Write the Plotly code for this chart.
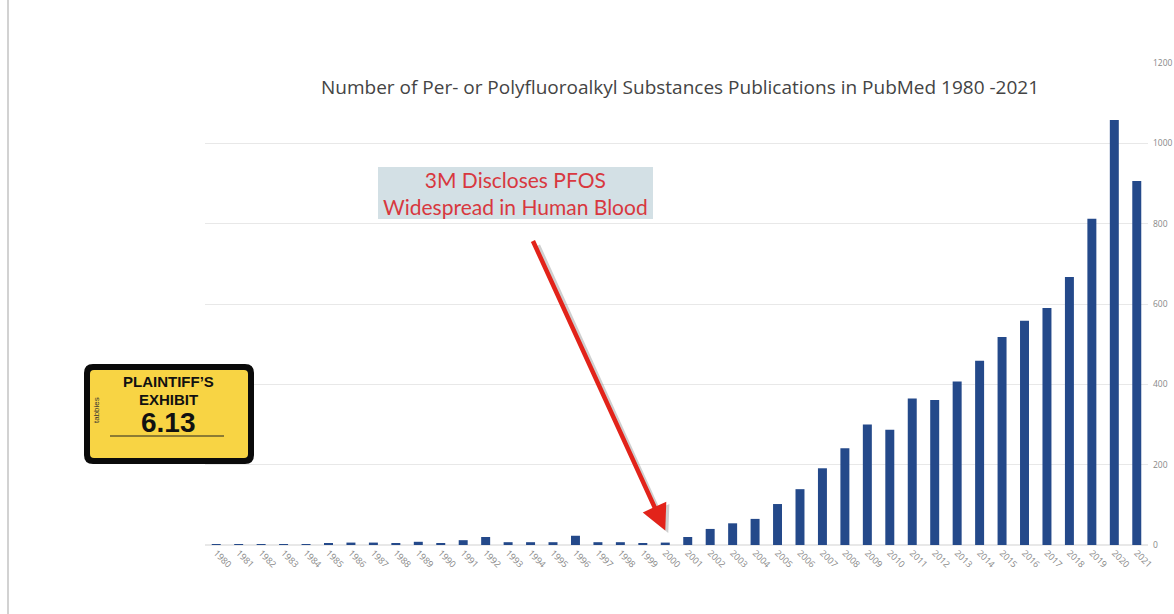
import plotly.graph_objects as go

years = [str(y) for y in range(1980, 2022)]
counts = [1, 1, 1, 1, 1, 3, 6, 6, 4, 8, 5, 12, 20, 7, 7, 7, 23, 7, 7, 5, 6,
          20, 40, 54, 65, 102, 139, 191, 241, 300, 287, 365, 361, 407, 459,
          518, 558, 590, 667, 812, 1058, 906]
y_ticks = [0, 200, 400, 600, 800, 1000, 1200]

title_text = "Number of Per- or Polyfluoroalkyl Substances Publications in PubMed 1980 -2021"
callout_text = "3M Discloses PFOS<br>Widespread in Human Blood"
callout_year = "2000"

W, H = 1174, 614
L, R, T, B = 205, 26, 63, 69
PW, PH = W - L - R, H - T - B


def px(x):
    return (x - L) / PW


def py(y):
    return (H - B - y) / PH


def rounded_path(x0, y0, x1, y1, r):
    rx, ry = r / PW, r / PH
    X0, X1 = px(x0), px(x1)
    Y0, Y1 = py(y1), py(y0)  # bottom, top in paper
    return (f"M {X0+rx},{Y0} L {X1-rx},{Y0} Q {X1},{Y0} {X1},{Y0+ry} "
            f"L {X1},{Y1-ry} Q {X1},{Y1} {X1-rx},{Y1} "
            f"L {X0+rx},{Y1} Q {X0},{Y1} {X0},{Y1-ry} "
            f"L {X0},{Y0+ry} Q {X0},{Y0} {X0+rx},{Y0} Z")


def label(text, x, y, size, color, family, angle=0):
    return dict(text=text, xref="paper", yref="paper", x=px(x), y=py(y),
                xanchor="center", yanchor="middle", showarrow=False,
                textangle=angle,
                font=dict(family=family, size=size, color=color))


# arrow target: category index of the disclosure year
xi = years.index(callout_year)
ti = counts[xi] + 30

fig = go.Figure()
fig.add_trace(go.Bar(x=years, y=counts, marker_color="#24498a",
                     marker_line_width=0, width=0.4))

shapes = [
    # left page line
    dict(type="line", xref="paper", yref="paper", x0=px(8), x1=px(8),
         y0=py(614), y1=py(0), line=dict(color="#d2d2d2", width=2)),
    # callout box
    dict(type="rect", xref="paper", yref="paper", x0=px(378), x1=px(653),
         y0=py(219), y1=py(167), fillcolor="#d3e0e5", line=dict(width=0),
         layer="below"),
    # sticker
    dict(type="path", xref="paper", yref="paper",
         path=rounded_path(84, 364, 254, 464, 9), fillcolor="#0a0a0a",
         line=dict(width=0)),
    dict(type="path", xref="paper", yref="paper",
         path=rounded_path(90, 370, 248, 458, 4), fillcolor="#f8d444",
         line=dict(width=0)),
    dict(type="line", xref="paper", yref="paper", x0=px(110), x1=px(224),
         y0=py(436), y1=py(436), line=dict(color="#222", width=1)),
]

annotations = [
    label(title_text, 680, 87, 19, "#444", "Open Sans"),
    label(callout_text, 515, 193, 21, "#d8383f", "Lato"),
    # arrow shadow
    dict(x=xi, y=ti - 6, xref="x", yref="y", ax=-131, ay=-289,
         text="", showarrow=True, arrowhead=2, arrowsize=1.15, arrowwidth=4.5,
         arrowcolor="rgba(120,120,120,0.35)", xshift=3),
    dict(x=xi, y=ti, xref="x", yref="y", ax=-133, ay=-291,
         text="", showarrow=True, arrowhead=2, arrowsize=1.15, arrowwidth=4.5,
         arrowcolor="#e2231a"),
    label("<b>PLAINTIFF’S</b>", 168, 381, 15, "#111", "Liberation Sans"),
    label("<b>EXHIBIT</b>", 168, 399, 15, "#111", "Liberation Sans"),
    label("<b>6.13</b>", 168, 422, 28, "#111", "Liberation Sans"),
    label("tabbies", 96, 410, 8, "#333", "Liberation Sans", angle=-90),
]

fig.update_layout(
    width=W, height=H,
    margin=dict(l=L, r=R, t=T, b=B, autoexpand=False),
    paper_bgcolor="white", plot_bgcolor="white",
    showlegend=False,
    bargap=0.6,
    shapes=shapes,
    annotations=annotations,
    xaxis=dict(type="category", tickangle=45, showgrid=False, showline=False,
               automargin=False,
               ticks="", tickfont=dict(family="Open Sans", size=9, color="#888"),
               range=[-0.5, len(years) - 0.5]),
    yaxis=dict(side="right", range=[0, 1200], tickvals=y_ticks,
               automargin=False,
               showgrid=True, gridcolor="#e8e8e8", gridwidth=1,
               zeroline=True, zerolinecolor="#e8e8e8", showline=False,
               tickfont=dict(family="Open Sans", size=8.5, color="#888"),
               ticklabelstandoff=4),
)

fig.write_html("out.html", config={"displayModeBar": False},
               post_script="document.body.style.margin='0px';document.body.style.overflow='hidden';")
